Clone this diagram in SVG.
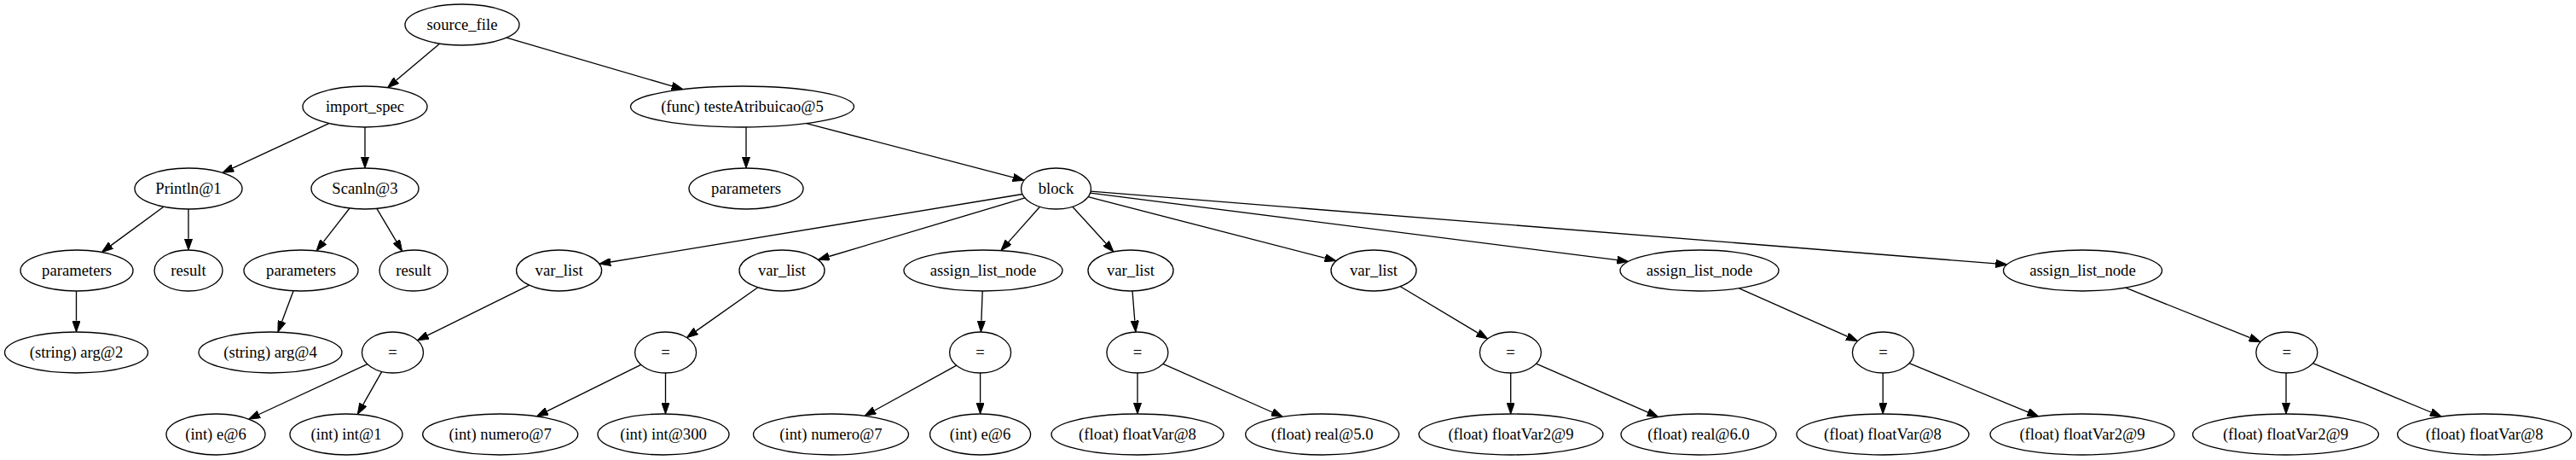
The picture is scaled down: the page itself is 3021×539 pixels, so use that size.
<svg xmlns="http://www.w3.org/2000/svg" width="3021" height="539" viewBox="0 0 3021 539">
<style>
.n ellipse{fill:#fff;stroke:#000;stroke-width:1.33}
.n text{font-family:"Liberation Serif","Times New Roman",serif;font-size:18.67px;text-anchor:middle;fill:#000}
.e line{stroke:#000;stroke-width:1.33;fill:none;marker-end:url(#arr)}
</style>
<defs>
<marker id="arr" markerUnits="userSpaceOnUse" viewBox="0 0 13.33 9.33" markerWidth="13.33" markerHeight="9.33" refX="0" refY="4.67" orient="auto">
<path d="M0,0 L13.33,4.67 L0,9.33 z" fill="#000" stroke="#000" stroke-width="1"/>
</marker>
</defs>
<rect width="3021" height="539" fill="#fff"/>
<g id="edges" class="e">
<line x1="515.8" y1="51.1" x2="464.7" y2="94.1"/>
<line x1="593.9" y1="44.2" x2="788.1" y2="100.9"/>
<line x1="385.8" y1="144.6" x2="273.1" y2="196.8"/>
<line x1="428" y1="149" x2="428" y2="183.7"/>
<line x1="875" y1="149" x2="875" y2="183.7"/>
<line x1="945.8" y1="144.6" x2="1188.2" y2="207.9"/>
<line x1="191.9" y1="242.3" x2="130.1" y2="287.6"/>
<line x1="221" y1="245" x2="221" y2="279.7"/>
<line x1="410" y1="244" x2="379.3" y2="283.4"/>
<line x1="441.9" y1="244.4" x2="464.8" y2="282.9"/>
<line x1="89.5" y1="341" x2="89.5" y2="375.7"/>
<line x1="344.1" y1="340.8" x2="330.6" y2="376.7"/>
<line x1="1199" y1="227.5" x2="716.1" y2="307"/>
<line x1="1202" y1="231.9" x2="972.2" y2="300.5"/>
<line x1="1219.5" y1="242.3" x2="1182.7" y2="283.6"/>
<line x1="1257.8" y1="242.2" x2="1297" y2="285.2"/>
<line x1="1276" y1="230.7" x2="1554" y2="302.3"/>
<line x1="1278.6" y1="226.1" x2="1896.4" y2="304.7"/>
<line x1="1279.1" y1="224.2" x2="2340.4" y2="308.9"/>
<line x1="620.7" y1="334.2" x2="501.4" y2="392.9"/>
<line x1="888.8" y1="336.8" x2="816.3" y2="387.9"/>
<line x1="1152.2" y1="341" x2="1150.9" y2="375.7"/>
<line x1="1328" y1="341" x2="1330.8" y2="375.7"/>
<line x1="1642.3" y1="335.7" x2="1733.2" y2="390.1"/>
<line x1="2039.6" y1="337.8" x2="2166.3" y2="394.2"/>
<line x1="2492.8" y1="337.2" x2="2638.6" y2="395.7"/>
<line x1="430.9" y1="426.7" x2="303.8" y2="485.5"/>
<line x1="447.8" y1="435.4" x2="425.9" y2="473.9"/>
<line x1="751.7" y1="427.3" x2="641.4" y2="481.9"/>
<line x1="780.5" y1="437" x2="780.5" y2="471.7"/>
<line x1="1121.8" y1="428.2" x2="1025.6" y2="481"/>
<line x1="1149.6" y1="437" x2="1149.6" y2="471.7"/>
<line x1="1334" y1="437" x2="1334" y2="471.7"/>
<line x1="1363.9" y1="426.3" x2="1492.1" y2="483"/>
<line x1="1771.7" y1="437" x2="1771.7" y2="471.7"/>
<line x1="1801.5" y1="426.1" x2="1932.6" y2="483.2"/>
<line x1="2208.2" y1="437" x2="2208.2" y2="471.7"/>
<line x1="2239" y1="425.6" x2="2378.3" y2="482.8"/>
<line x1="2681" y1="437" x2="2681" y2="471.7"/>
<line x1="2712.4" y1="425.7" x2="2850.9" y2="483"/>
</g>
<g id="n0" class="n"><ellipse cx="542" cy="29" rx="67" ry="24"/><text x="542" y="35">source_file</text></g>
<g id="n1" class="n"><ellipse cx="428" cy="125" rx="73" ry="24"/><text x="428" y="131">import_spec</text></g>
<g id="n2" class="n"><ellipse cx="870.5" cy="125" rx="131" ry="24"/><text x="870.5" y="131">(func) testeAtribuicao@5</text></g>
<g id="n3" class="n"><ellipse cx="221" cy="221" rx="63" ry="24"/><text x="221" y="227">Println@1</text></g>
<g id="n4" class="n"><ellipse cx="428" cy="221" rx="63" ry="24"/><text x="428" y="227">Scanln@3</text></g>
<g id="n5" class="n"><ellipse cx="875" cy="221" rx="67" ry="24"/><text x="875" y="227">parameters</text></g>
<g id="n6" class="n"><ellipse cx="1238.5" cy="221" rx="41" ry="24"/><text x="1238.5" y="227">block</text></g>
<g id="n7" class="n"><ellipse cx="90" cy="317" rx="66" ry="24"/><text x="90" y="323">parameters</text></g>
<g id="n8" class="n"><ellipse cx="221" cy="317" rx="40" ry="24"/><text x="221" y="323">result</text></g>
<g id="n9" class="n"><ellipse cx="353" cy="317" rx="67" ry="24"/><text x="353" y="323">parameters</text></g>
<g id="n10" class="n"><ellipse cx="485" cy="317" rx="40" ry="24"/><text x="485" y="323">result</text></g>
<g id="n11" class="n"><ellipse cx="655.6" cy="317" rx="50" ry="24"/><text x="655.6" y="323">var_list</text></g>
<g id="n12" class="n"><ellipse cx="917" cy="317" rx="50" ry="24"/><text x="917" y="323">var_list</text></g>
<g id="n13" class="n"><ellipse cx="1153" cy="317" rx="93" ry="24"/><text x="1153" y="323">assign_list_node</text></g>
<g id="n14" class="n"><ellipse cx="1326" cy="317" rx="50" ry="24"/><text x="1326" y="323">var_list</text></g>
<g id="n15" class="n"><ellipse cx="1611" cy="317" rx="50" ry="24"/><text x="1611" y="323">var_list</text></g>
<g id="n16" class="n"><ellipse cx="1993" cy="317" rx="93" ry="24"/><text x="1993" y="323">assign_list_node</text></g>
<g id="n17" class="n"><ellipse cx="2442.5" cy="317" rx="93" ry="24"/><text x="2442.5" y="323">assign_list_node</text></g>
<g id="n18" class="n"><ellipse cx="89.5" cy="413" rx="84" ry="24"/><text x="89.5" y="419">(string) arg@2</text></g>
<g id="n19" class="n"><ellipse cx="317" cy="413" rx="84" ry="24"/><text x="317" y="419">(string) arg@4</text></g>
<g id="n20" class="n"><ellipse cx="460.5" cy="413" rx="36" ry="24"/><text x="460.5" y="419">=</text></g>
<g id="n21" class="n"><ellipse cx="780.6" cy="413" rx="36" ry="24"/><text x="780.6" y="419">=</text></g>
<g id="n22" class="n"><ellipse cx="1149.6" cy="413" rx="36" ry="24"/><text x="1149.6" y="419">=</text></g>
<g id="n23" class="n"><ellipse cx="1333.9" cy="413" rx="36" ry="24"/><text x="1333.9" y="419">=</text></g>
<g id="n24" class="n"><ellipse cx="1771.4" cy="413" rx="36" ry="24"/><text x="1771.4" y="419">=</text></g>
<g id="n25" class="n"><ellipse cx="2208.4" cy="413" rx="36" ry="24"/><text x="2208.4" y="419">=</text></g>
<g id="n26" class="n"><ellipse cx="2681.8" cy="413" rx="36" ry="24"/><text x="2681.8" y="419">=</text></g>
<g id="n27" class="n"><ellipse cx="253" cy="509" rx="58" ry="24"/><text x="253" y="515">(int) e@6</text></g>
<g id="n28" class="n"><ellipse cx="406" cy="509" rx="66" ry="24"/><text x="406" y="515">(int) int@1</text></g>
<g id="n29" class="n"><ellipse cx="586.7" cy="509" rx="91" ry="24"/><text x="586.7" y="515">(int) numero@7</text></g>
<g id="n30" class="n"><ellipse cx="778" cy="509" rx="77" ry="24"/><text x="778" y="515">(int) int@300</text></g>
<g id="n31" class="n"><ellipse cx="974.5" cy="509" rx="91" ry="24"/><text x="974.5" y="515">(int) numero@7</text></g>
<g id="n32" class="n"><ellipse cx="1149.6" cy="509" rx="59" ry="24"/><text x="1149.6" y="515">(int) e@6</text></g>
<g id="n33" class="n"><ellipse cx="1334" cy="509" rx="101" ry="24"/><text x="1334" y="515">(float) floatVar@8</text></g>
<g id="n34" class="n"><ellipse cx="1550.7" cy="509" rx="90" ry="24"/><text x="1550.7" y="515">(float) real@5.0</text></g>
<g id="n35" class="n"><ellipse cx="1772" cy="509" rx="108" ry="24"/><text x="1772" y="515">(float) floatVar2@9</text></g>
<g id="n36" class="n"><ellipse cx="1992" cy="509" rx="91" ry="24"/><text x="1992" y="515">(float) real@6.0</text></g>
<g id="n37" class="n"><ellipse cx="2208" cy="509" rx="101" ry="24"/><text x="2208" y="515">(float) floatVar@8</text></g>
<g id="n38" class="n"><ellipse cx="2442" cy="509" rx="108" ry="24"/><text x="2442" y="515">(float) floatVar2@9</text></g>
<g id="n39" class="n"><ellipse cx="2680.5" cy="509" rx="109" ry="24"/><text x="2680.5" y="515">(float) floatVar2@9</text></g>
<g id="n40" class="n"><ellipse cx="2913.6" cy="509" rx="102" ry="24"/><text x="2913.6" y="515">(float) floatVar@8</text></g>
</svg>
